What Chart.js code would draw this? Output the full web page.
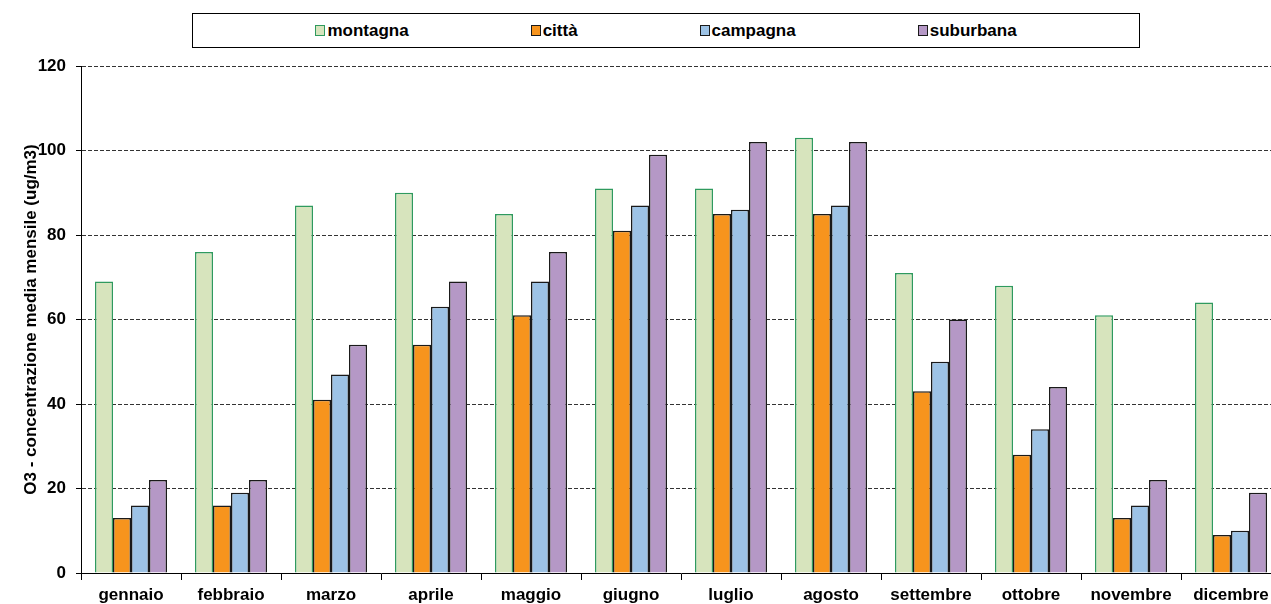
<!DOCTYPE html>
<html>
<head>
<meta charset="utf-8">
<script src="https://cdn.jsdelivr.net/npm/chart.js@4"></script>
<style>
  body { margin: 0; overflow: hidden; background: #fff; font-family: "Liberation Sans", Arial, sans-serif; }
  #wrap { position: absolute; left: 0; top: 0; width: 1282px; height: 604px; }
  #legenda {
    position: absolute; left: 192px; top: 13px; width: 946px; height: 33px;
    border: 1px solid #000; display: flex; align-items: center; justify-content: center;
    gap: 122px; font-weight: bold; font-size: 17px; color: #000; background: #fff;
  }
  #legenda span.item { display: flex; align-items: center; }
  #legenda i { display: inline-block; width: 8px; height: 9px; border: 1.5px solid; margin-right: 2px; }
</style>
</head>
<body>
<div id="wrap">
  <canvas id="grafico-o3" width="1282" height="604"></canvas>
  <div id="legenda"></div>
</div>
<script>
var mesi = ["gennaio", "febbraio", "marzo", "aprile", "maggio", "giugno", "luglio", "agosto", "settembre", "ottobre", "novembre", "dicembre"];
var montagna = [69, 76, 87, 90, 85, 91, 91, 103, 71, 68, 61, 64];
var citta = [13, 16, 41, 54, 61, 81, 85, 85, 43, 28, 13, 9];
var campagna = [16, 19, 47, 63, 69, 87, 86, 87, 50, 34, 16, 10];
var suburbana = [22, 22, 54, 69, 76, 99, 102, 102, 60, 44, 22, 19];
var tickY = [0, 20, 40, 60, 80, 100, 120];

var font = { family: '"Liberation Sans", Arial, sans-serif', size: 17, weight: 'bold' };

var serie = [
  { label: 'montagna', data: montagna, backgroundColor: '#d7e4bd', borderColor: '#2f9a5e' },
  { label: 'città', data: citta, backgroundColor: '#f7941d', borderColor: '#1a1a1a' },
  { label: 'campagna', data: campagna, backgroundColor: '#9dc3e6', borderColor: '#1a1a1a' },
  { label: 'suburbana', data: suburbana, backgroundColor: '#b598c6', borderColor: '#1a1a1a' }
];
serie.forEach(function(s) {
  s.borderWidth = 1.5;
  s.categoryPercentage = 0.72;
  s.barPercentage = 1.0;
});

// legenda HTML con riquadro
var leg = document.getElementById('legenda');
serie.forEach(function(s) {
  var item = document.createElement('span');
  item.className = 'item';
  var box = document.createElement('i');
  box.style.background = s.backgroundColor;
  box.style.borderColor = s.borderColor;
  item.appendChild(box);
  item.appendChild(document.createTextNode(s.label));
  leg.appendChild(item);
});

var ctx = document.getElementById('grafico-o3').getContext('2d');
new Chart(ctx, {
  type: 'bar',
  data: { labels: mesi, datasets: serie },
  options: {
    responsive: false,
    animation: false,
    layout: { padding: { top: 66, right: 1, left: 0, bottom: 0 } },
    plugins: {
      legend: { display: false },
      tooltip: { enabled: false }
    },
    scales: {
      x: {
        afterFit: function(s) { s.height = 31; },
        grid: { drawOnChartArea: false, drawTicks: true, tickLength: 7, color: '#000', offset: true },
        border: { color: '#000', width: 1 },
        ticks: { color: '#000', font: font, padding: 5, maxRotation: 0, autoSkip: false }
      },
      y: {
        min: 0,
        max: 120,
        afterFit: function(s) { s.width = 81; },
        afterBuildTicks: function(s) { s.ticks = tickY.map(function(v) { return { value: v }; }); },
        grid: { color: '#333', tickLength: 5, tickColor: '#000', tickBorderDash: [] },
        border: { color: '#000', width: 1, dash: [4, 2] },
        ticks: { color: '#000', font: font, padding: 10 },
        title: {
          display: true,
          text: 'O3 - concentrazione media mensile (ug/m3)',
          color: '#000',
          font: font,
          padding: { top: 21, bottom: 0 }
        }
      }
    }
  }
});
</script>
</body>
</html>
